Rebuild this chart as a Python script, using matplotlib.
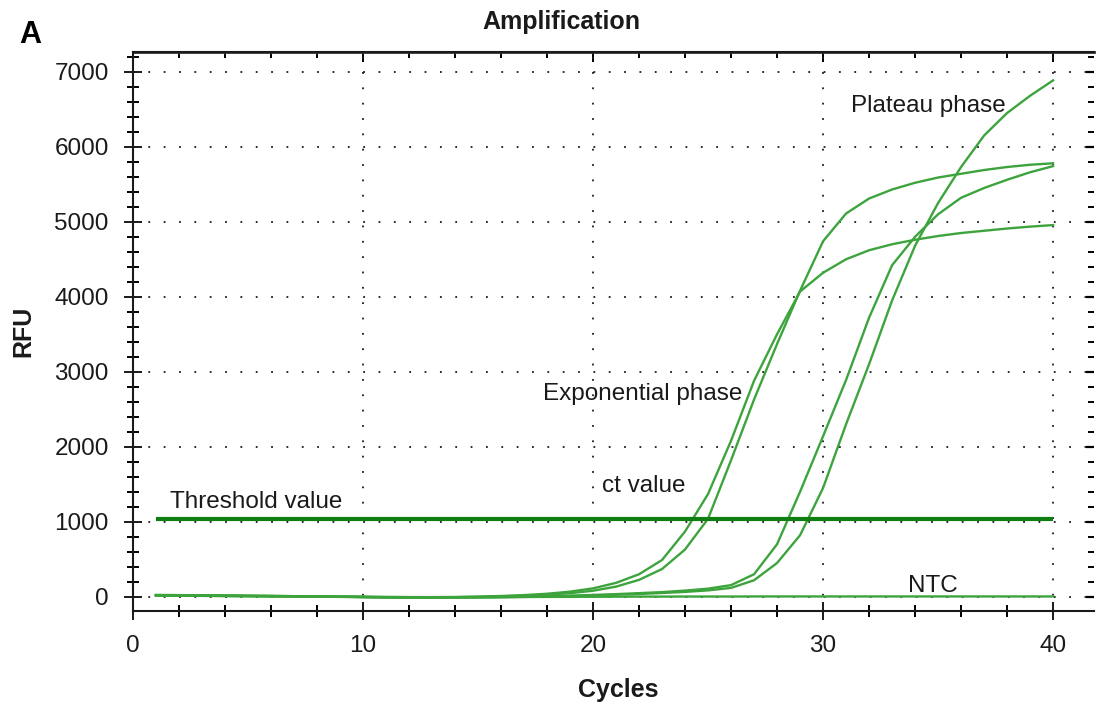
import matplotlib
matplotlib.use("Agg")
import matplotlib.pyplot as plt
from matplotlib.ticker import MultipleLocator

plt.rcParams['font.family'] = ['Liberation Sans', 'DejaVu Sans']

# qPCR amplification data, RFU per cycle
cycles = list(range(1, 41))

sample_1 = [20, 18, 16, 14, 12, 10, 7, 4, 1, -3, -6, -8, -8, -6, -2, 5, 14, 28, 48, 80,
            135, 225, 370, 630, 1040, 1820, 2630, 3370, 4080, 4740, 5110, 5310, 5430,
            5520, 5590, 5640, 5690, 5730, 5760, 5780]
sample_2 = [25, 22, 20, 18, 15, 12, 8, 5, 2, 0, -3, -5, -5, -3, 2, 10, 22, 40, 68, 112,
            185, 300, 490, 870, 1370, 2080, 2880, 3500, 4070, 4320, 4500, 4620, 4700,
            4760, 4810, 4850, 4880, 4910, 4935, 4956]
sample_3 = [18, 16, 14, 12, 10, 8, 5, 2, 0, -4, -8, -10, -10, -9, -7, -4, 0, 6, 14, 24,
            35, 48, 62, 82, 108, 155, 300, 700, 1400, 2140, 2890, 3720, 4420, 4800,
            5100, 5320, 5450, 5560, 5660, 5742]
sample_4 = [16, 14, 12, 10, 8, 6, 4, 1, -2, -5, -9, -11, -12, -11, -9, -6, -2, 3, 10, 18,
            27, 37, 50, 65, 85, 118, 220, 450, 820, 1450, 2300, 3100, 3950, 4680, 5250,
            5730, 6150, 6450, 6680, 6885]
ntc = [15, 14, 12, 10, 8, 6, 4, 2, 0, -2, -4, -5, -6, -6, -5, -4, -3, -2, -1, 0,
       1, 2, 2, 3, 3, 3, 4, 4, 4, 4, 4, 4, 4, 4, 4, 4, 4, 4, 4, 4]
threshold = 1040

fig = plt.figure(figsize=(10.97, 7.04), dpi=100)
ax = fig.add_axes([0.1212, 0.1321, 0.8761, 0.7944])

curve_col = '#3da43d'
for s in (sample_1, sample_2, sample_3, sample_4, ntc):
    ax.plot(cycles, s, color=curve_col, lw=1.7, zorder=3)
ax.plot([cycles[0], cycles[-1]], [threshold, threshold], color='#0f7d0f', lw=3.0,
        solid_capstyle='butt', zorder=4)

ax.set_xlim(0, 41.78)
ax.set_ylim(-190, 7267)

ax.xaxis.set_major_locator(MultipleLocator(10))
ax.xaxis.set_minor_locator(MultipleLocator(2))
ax.yaxis.set_major_locator(MultipleLocator(1000))
ax.yaxis.set_minor_locator(MultipleLocator(200))

ax.grid(True, which='major', color='#1a1a1a', lw=1.3, linestyle=(0, (1, 7.5)), zorder=1)

for side in ('left', 'bottom', 'top', 'right'):
    ax.spines[side].set_linewidth(1.5)
    ax.spines[side].set_color('#1a1a1a')
ax.spines['right'].set_visible(False)

ax.tick_params(which='major', direction='inout', length=13, width=1.4, pad=11,
               labelsize=17.5, colors='#1a1a1a')
ax.tick_params(which='minor', direction='inout', length=8, width=1.4)

# inward ticks along the top and right edges
top = ax.secondary_xaxis('top')
top.xaxis.set_major_locator(MultipleLocator(10))
top.xaxis.set_minor_locator(MultipleLocator(2))
top.tick_params(which='major', direction='in', length=7, width=1.4, labeltop=False)
top.tick_params(which='minor', direction='in', length=4, width=1.4)
top.spines['top'].set_linewidth(2)
top.spines['top'].set_color('#333333')

right = ax.secondary_yaxis('right')
right.yaxis.set_major_locator(MultipleLocator(1000))
right.yaxis.set_minor_locator(MultipleLocator(200))
right.tick_params(which='major', direction='in', length=6, width=1.6, labelright=False)
right.tick_params(which='minor', direction='in', length=4, width=1.4)
right.spines['right'].set_visible(False)

txt = dict(fontsize=17.5, color='#1a1a1a', va='baseline', zorder=5)
ax.text(31.2, 6467, 'Plateau phase', **txt)
ax.text(17.83, 2623, 'Exponential phase', **txt)
ax.text(20.4, 1400, 'ct value', **txt)
ax.text(1.6, 1183, 'Threshold value', **txt)
ax.text(33.7, 60, 'NTC', **txt)

fig.text(561 / 1097, 1 - 29.5 / 704, 'Amplification', ha='center', va='baseline',
         fontsize=18, fontweight='bold', color='#1a1a1a')
fig.text(618 / 1097, 1 - 697 / 704, 'Cycles', ha='center', va='baseline',
         fontsize=18, fontweight='bold', color='#1a1a1a')
fig.text(23 / 1097, 1 - 331 / 704, 'RFU', ha='center', va='center', rotation=90,
         fontsize=18, fontweight='bold', color='#1a1a1a')
fig.text(19 / 1097, 1 - 43 / 704, 'A', ha='left', va='baseline',
         fontsize=22, fontweight='bold', color='black')

fig.savefig('out.png', dpi=100)
